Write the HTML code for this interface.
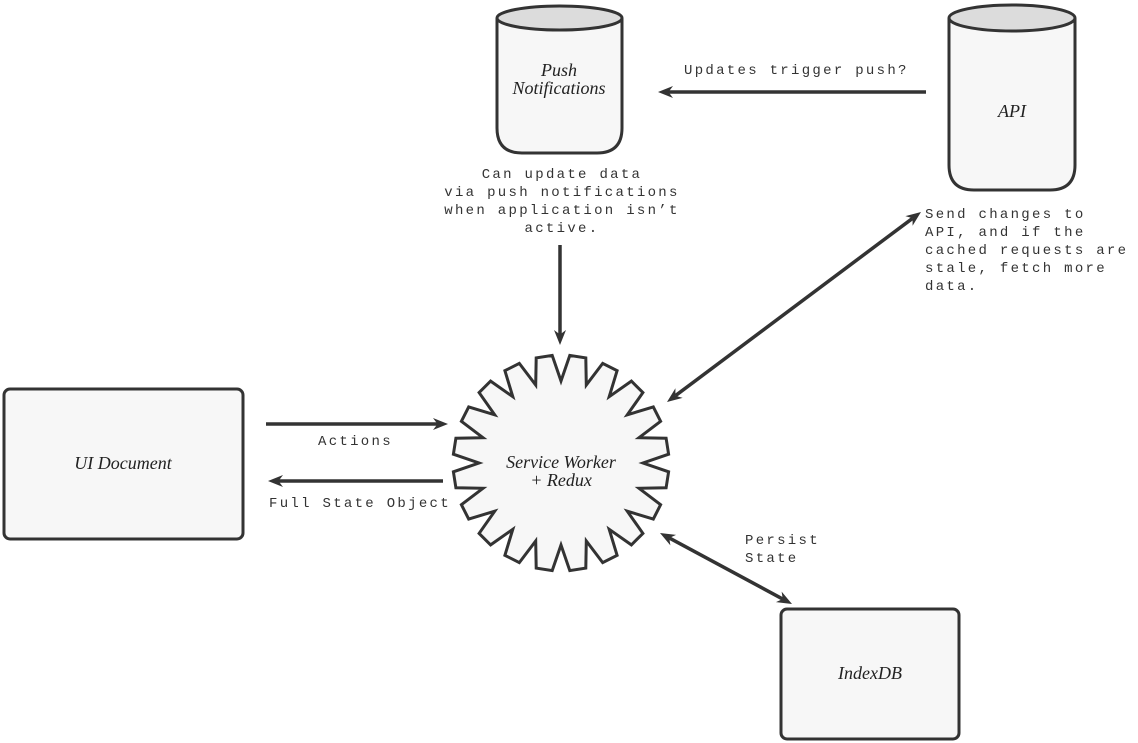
<!DOCTYPE html>
<html><head><meta charset="utf-8"><style>
html,body{margin:0;padding:0;background:#fff;}
svg{display:block}
.m{font-family:"Liberation Mono",monospace;font-size:14px;fill:#333;letter-spacing:2.3px}
.s{font-family:"Liberation Serif",serif;font-style:italic;font-size:18px;fill:#222}
</style></head><body>
<svg id="s" width="1138" height="743" viewBox="0 0 1138 743" xmlns="http://www.w3.org/2000/svg">
<path d="M497,18 L497,128 Q497,153 522,153 L597,153 Q622,153 622,128 L622,18" fill="#f7f7f7" stroke="#333" stroke-width="3"/>
<ellipse cx="559.5" cy="18" rx="62.5" ry="12" fill="#dcdcdc" stroke="#333" stroke-width="3"/>
<text class="s" x="559" y="76" text-anchor="middle">Push</text>
<text class="s" x="559" y="94" text-anchor="middle">Notifications</text>
<path d="M949,18 L949,165 Q949,190 974,190 L1050,190 Q1075,190 1075,165 L1075,18" fill="#f7f7f7" stroke="#333" stroke-width="3"/>
<ellipse cx="1012" cy="18" rx="63" ry="13" fill="#dcdcdc" stroke="#333" stroke-width="3"/>
<text class="s" x="1012" y="117" text-anchor="middle">API</text>
<rect x="4" y="389" width="239" height="150" rx="6" fill="#f7f7f7" stroke="#333" stroke-width="3"/>
<text class="s" x="123" y="469" text-anchor="middle">UI Document</text>
<rect x="781" y="609" width="178" height="130" rx="6" fill="#f7f7f7" stroke="#333" stroke-width="3"/>
<text class="s" x="870" y="679" text-anchor="middle">IndexDB</text>
<polygon id="g" fill="#f7f7f7" stroke="#333" stroke-width="3" stroke-linejoin="miter" points=""/>
<text class="s" x="561" y="468" text-anchor="middle">Service Worker</text>
<text class="s" x="561" y="486" text-anchor="middle">+ Redux</text>
<g id="arr" stroke="#333" stroke-width="3.5" fill="none"></g>
<g id="heads" fill="#333"></g>
<text class="m" x="684" y="74">Updates trigger push?</text>
<text class="m" x="562" y="178" text-anchor="middle">Can update data</text>
<text class="m" x="562" y="196" text-anchor="middle">via push notifications</text>
<text class="m" x="562" y="214" text-anchor="middle">when application isn’t</text>
<text class="m" x="562" y="232" text-anchor="middle">active.</text>
<text class="m" x="925" y="218">Send changes to</text>
<text class="m" x="925" y="236">API, and if the</text>
<text class="m" x="925" y="254">cached requests are</text>
<text class="m" x="925" y="272">stale, fetch more</text>
<text class="m" x="925" y="290">data.</text>
<text class="m" x="318" y="445">Actions</text>
<text class="m" x="269" y="507">Full State Object</text>
<text class="m" x="745" y="544">Persist</text>
<text class="m" x="745" y="562">State</text>
</svg>
<script>
var NS="http://www.w3.org/2000/svg";
var cx=561,cy=463,ro=108,ri=82,n=20,pts=[];
for(var i=0;i<n;i++){
 var c=(i*18+9)*Math.PI/180;
 var t=4.3*Math.PI/180;
 [[c-9*Math.PI/180,ri],[c-t,ro],[c+t,ro]].forEach(function(p){
  pts.push((cx+p[1]*Math.sin(p[0])).toFixed(1)+","+(cy-p[1]*Math.cos(p[0])).toFixed(1));
 });
}
document.getElementById("g").setAttribute("points",pts.join(" "));
function head(x,y,fx,fy){
 var dx=x-fx,dy=y-fy,L=Math.hypot(dx,dy);dx/=L;dy/=L;
 var len=15,w=6,bx=x-dx*len,by=y-dy*len;
 var p=document.createElementNS(NS,"polygon");
 p.setAttribute("points",x+","+y+" "+(bx-dy*w)+","+(by+dx*w)+" "+(x-dx*len*0.7)+","+(y-dy*len*0.7)+" "+(bx+dy*w)+","+(by-dx*w));
 document.getElementById("heads").appendChild(p);
 return [x-dx*len*0.7,y-dy*len*0.7];
}
function arrow(x1,y1,x2,y2,both){
 var e=head(x2,y2,x1,y1),s=[x1,y1];
 if(both)s=head(x1,y1,x2,y2);
 var l=document.createElementNS(NS,"line");
 l.setAttribute("x1",s[0]);l.setAttribute("y1",s[1]);l.setAttribute("x2",e[0]);l.setAttribute("y2",e[1]);
 document.getElementById("arr").appendChild(l);
}
arrow(926,92,658,92);
arrow(560,245,560,345);
arrow(266,424,448,424);
arrow(443,481,268,481);
arrow(667,402,921,212,true);
arrow(660,533,792,604,true);
</script>
</body></html>
